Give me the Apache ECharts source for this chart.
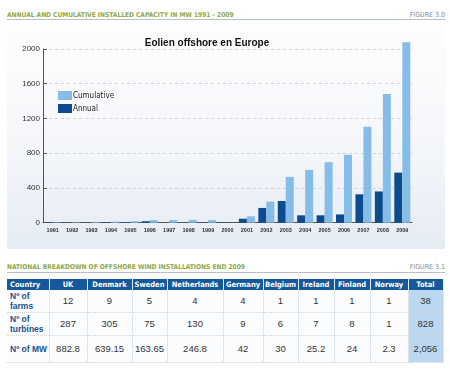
<!DOCTYPE html>
<html>
<head>
<meta charset="utf-8">
<script src="https://cdn.jsdelivr.net/npm/echarts@6/dist/echarts.min.js"></script>
<style>
  html, body { margin:0; padding:0; width:450px; height:370px; background:#ffffff; overflow:hidden; }
  .hdr { position:absolute; left:7px; font-family:"Liberation Sans Narrow","DejaVu Sans Condensed","Liberation Sans",Arial,sans-serif; font-weight:bold; font-size:6.6px; color:#8fa83f; white-space:nowrap; }
  .fig { position:absolute; right:5px; font-family:"Liberation Sans Narrow","DejaVu Sans Condensed","Liberation Sans",Arial,sans-serif; font-size:7px; color:#8a8a8a; white-space:nowrap; }
  .rule { position:absolute; left:7px; width:438px; height:1px; background:#b7c0c9; }
  #panel { position:absolute; left:7px; top:25px; width:438px; height:224px; background:linear-gradient(to bottom,#fdfdfe 0%,#f5f7fa 50%,#e6ecf5 100%); }
  #chart { position:absolute; left:0; top:0; width:450px; height:260px; }
  #tbl { position:absolute; left:7px; top:279px; width:436px; border-collapse:collapse; table-layout:fixed; background:#f3f5f9; font-family:"Liberation Sans",Arial,sans-serif; }
  #tbl th { background:#15589c; color:#fff; font-family:"Liberation Sans Narrow","DejaVu Sans Condensed","Liberation Sans",Arial,sans-serif; font-size:7.5px; font-weight:bold; height:11px; padding:0; border-right:1px solid #e8eef6; text-align:center; }
  #tbl th.first { text-align:left; padding-left:3px; }
  #tbl td { background:#fbfcfd; color:#333; font-size:9.5px; text-align:center; padding:0; border-right:1px solid #dfe5ee; border-bottom:1px dotted #cfd6e0; }
  #tbl td.lab { text-align:left; padding-left:3px; color:#1a4f8f; font-weight:bold; font-size:8.5px; line-height:10px; }
  #tbl td.tot { background:#bcd7ef; }
</style>
</head>
<body>
<div class="hdr" style="top:11px;">ANNUAL AND CUMULATIVE INSTALLED CAPACITY IN MW 1991 - 2009</div>
<div class="fig" style="top:11px;">FIGURE 3.0</div>
<div class="rule" style="top:19px;"></div>
<div id="panel"></div>
<div id="chart"></div>
<div class="hdr" style="top:263px;">NATIONAL BREAKDOWN OF OFFSHORE WIND INSTALLATIONS END 2009</div>
<div class="fig" style="top:263px;">FIGURE 3.1</div>
<div class="rule" style="top:272px;"></div>
<table id="tbl"></table>
<script>
// ---- Chart data ----
const years = ['1991','1992','1993','1994','1995','1996','1997','1998','1999','2000','2001','2002','2003','2004','2005','2006','2007','2008','2009'];
const annual = [5, 0, 2, 5, 5, 17, 0, 3, 2, 4, 46, 170, 250, 85, 85, 95, 327, 360, 577];
const cumulative = [5, 5, 7, 12, 17, 30, 30, 32, 30, 0, 74, 242, 527, 608, 697, 781, 1104, 1481, 2078];
const yTicks = [0, 400, 800, 1200, 1600, 2000];

// ---- Table data ----
const countries = ['UK','Denmark','Sweden','Netherlands','Germany','Belgium','Ireland','Finland','Norway'];
const farms = ['12','9','5','4','4','1','1','1','1'];
const turbines = ['287','305','75','130','9','6','7','8','1'];
const mw = ['882.8','639.15','163.65','246.8','42','30','25.2','24','2.3'];
const totals = ['38','828','2,056'];
const rowLabels = ['Nº of<br>farms','Nº of<br>turbines','Nº of MW'];

const colWidths = [42,38,45,35,56,40,35,36,36,38,35];
const rowHeights = [22,23,27];

// build table
const tbl = document.getElementById('tbl');
const cg = document.createElement('colgroup');
colWidths.forEach(w => { const c = document.createElement('col'); c.style.width = w + 'px'; cg.appendChild(c); });
tbl.appendChild(cg);
const hr = document.createElement('tr');
['Country'].concat(countries).concat(['Total']).forEach((t, i) => {
  const th = document.createElement('th'); th.textContent = t; if (i === 0) th.className = 'first'; hr.appendChild(th);
});
tbl.appendChild(hr);
[farms, turbines, mw].forEach((row, r) => {
  const tr = document.createElement('tr');
  tr.style.height = rowHeights[r] + 'px';
  const lab = document.createElement('td'); lab.className = 'lab'; lab.innerHTML = rowLabels[r]; tr.appendChild(lab);
  row.forEach(v => { const td = document.createElement('td'); td.textContent = v; tr.appendChild(td); });
  const tt = document.createElement('td'); tt.className = 'tot'; tt.textContent = totals[r]; tr.appendChild(tt);
  tbl.appendChild(tr);
});

// chart
const chart = echarts.init(document.getElementById('chart'), null, { renderer: 'canvas' });
chart.setOption({
  backgroundColor: 'transparent',
  animation: false,
  title: {
    text: 'Eolien offshore en Europe',
    left: 207, top: 38, textAlign: 'center',
    textStyle: { fontFamily: 'Liberation Sans, Arial, sans-serif', fontSize: 10, fontWeight: 'bold', color: '#111' },
    padding: 0
  },
  legend: {
    data: ['Cumulative', 'Annual'],
    orient: 'vertical', left: 58, top: 91,
    itemWidth: 14, itemHeight: 9, itemGap: 4, padding: 0,
    icon: 'rect',
    textStyle: { fontFamily: 'Liberation Sans Narrow, DejaVu Sans Condensed, Arial, sans-serif', fontSize: 8, color: '#222', padding: [0,0,0,-4] }
  },
  grid: { left: 43, right: 38, top: 49, bottom: 37.3, containLabel: false },
  xAxis: {
    type: 'category', data: years,
    axisLine: { show: true, lineStyle: { color: '#555', width: 1 } },
    axisTick: { show: false },
    axisLabel: { fontSize: 5.5, fontWeight: 'bold', color: '#333', margin: 5, interval: 0, fontFamily: 'Liberation Sans, Arial, sans-serif' }
  },
  yAxis: {
    type: 'value', min: 0, max: 2000, interval: 400,
    axisLine: { show: true, lineStyle: { color: '#555', width: 1 } },
    axisTick: { show: true, inside: true, length: 4, lineStyle: { color: '#555' } },
    axisLabel: { fontSize: 8, color: '#333', margin: 3, fontFamily: 'Liberation Sans, Arial, sans-serif',
      formatter: v => yTicks.indexOf(v) >= 0 ? String(v) : '' },
    splitLine: { show: true, lineStyle: { color: '#cfd3d8', type: [3, 3], width: 1 } }
  },
  series: [
    { name: 'Annual', type: 'bar', data: annual, barWidth: 8, barGap: '0%', clip: false, itemStyle: { color: '#0c4c8e' } },
    { name: 'Cumulative', type: 'bar', data: cumulative, barWidth: 8, barGap: '0%', clip: false, itemStyle: { color: '#86bde8' } }
  ]
});
</script>
</body>
</html>
